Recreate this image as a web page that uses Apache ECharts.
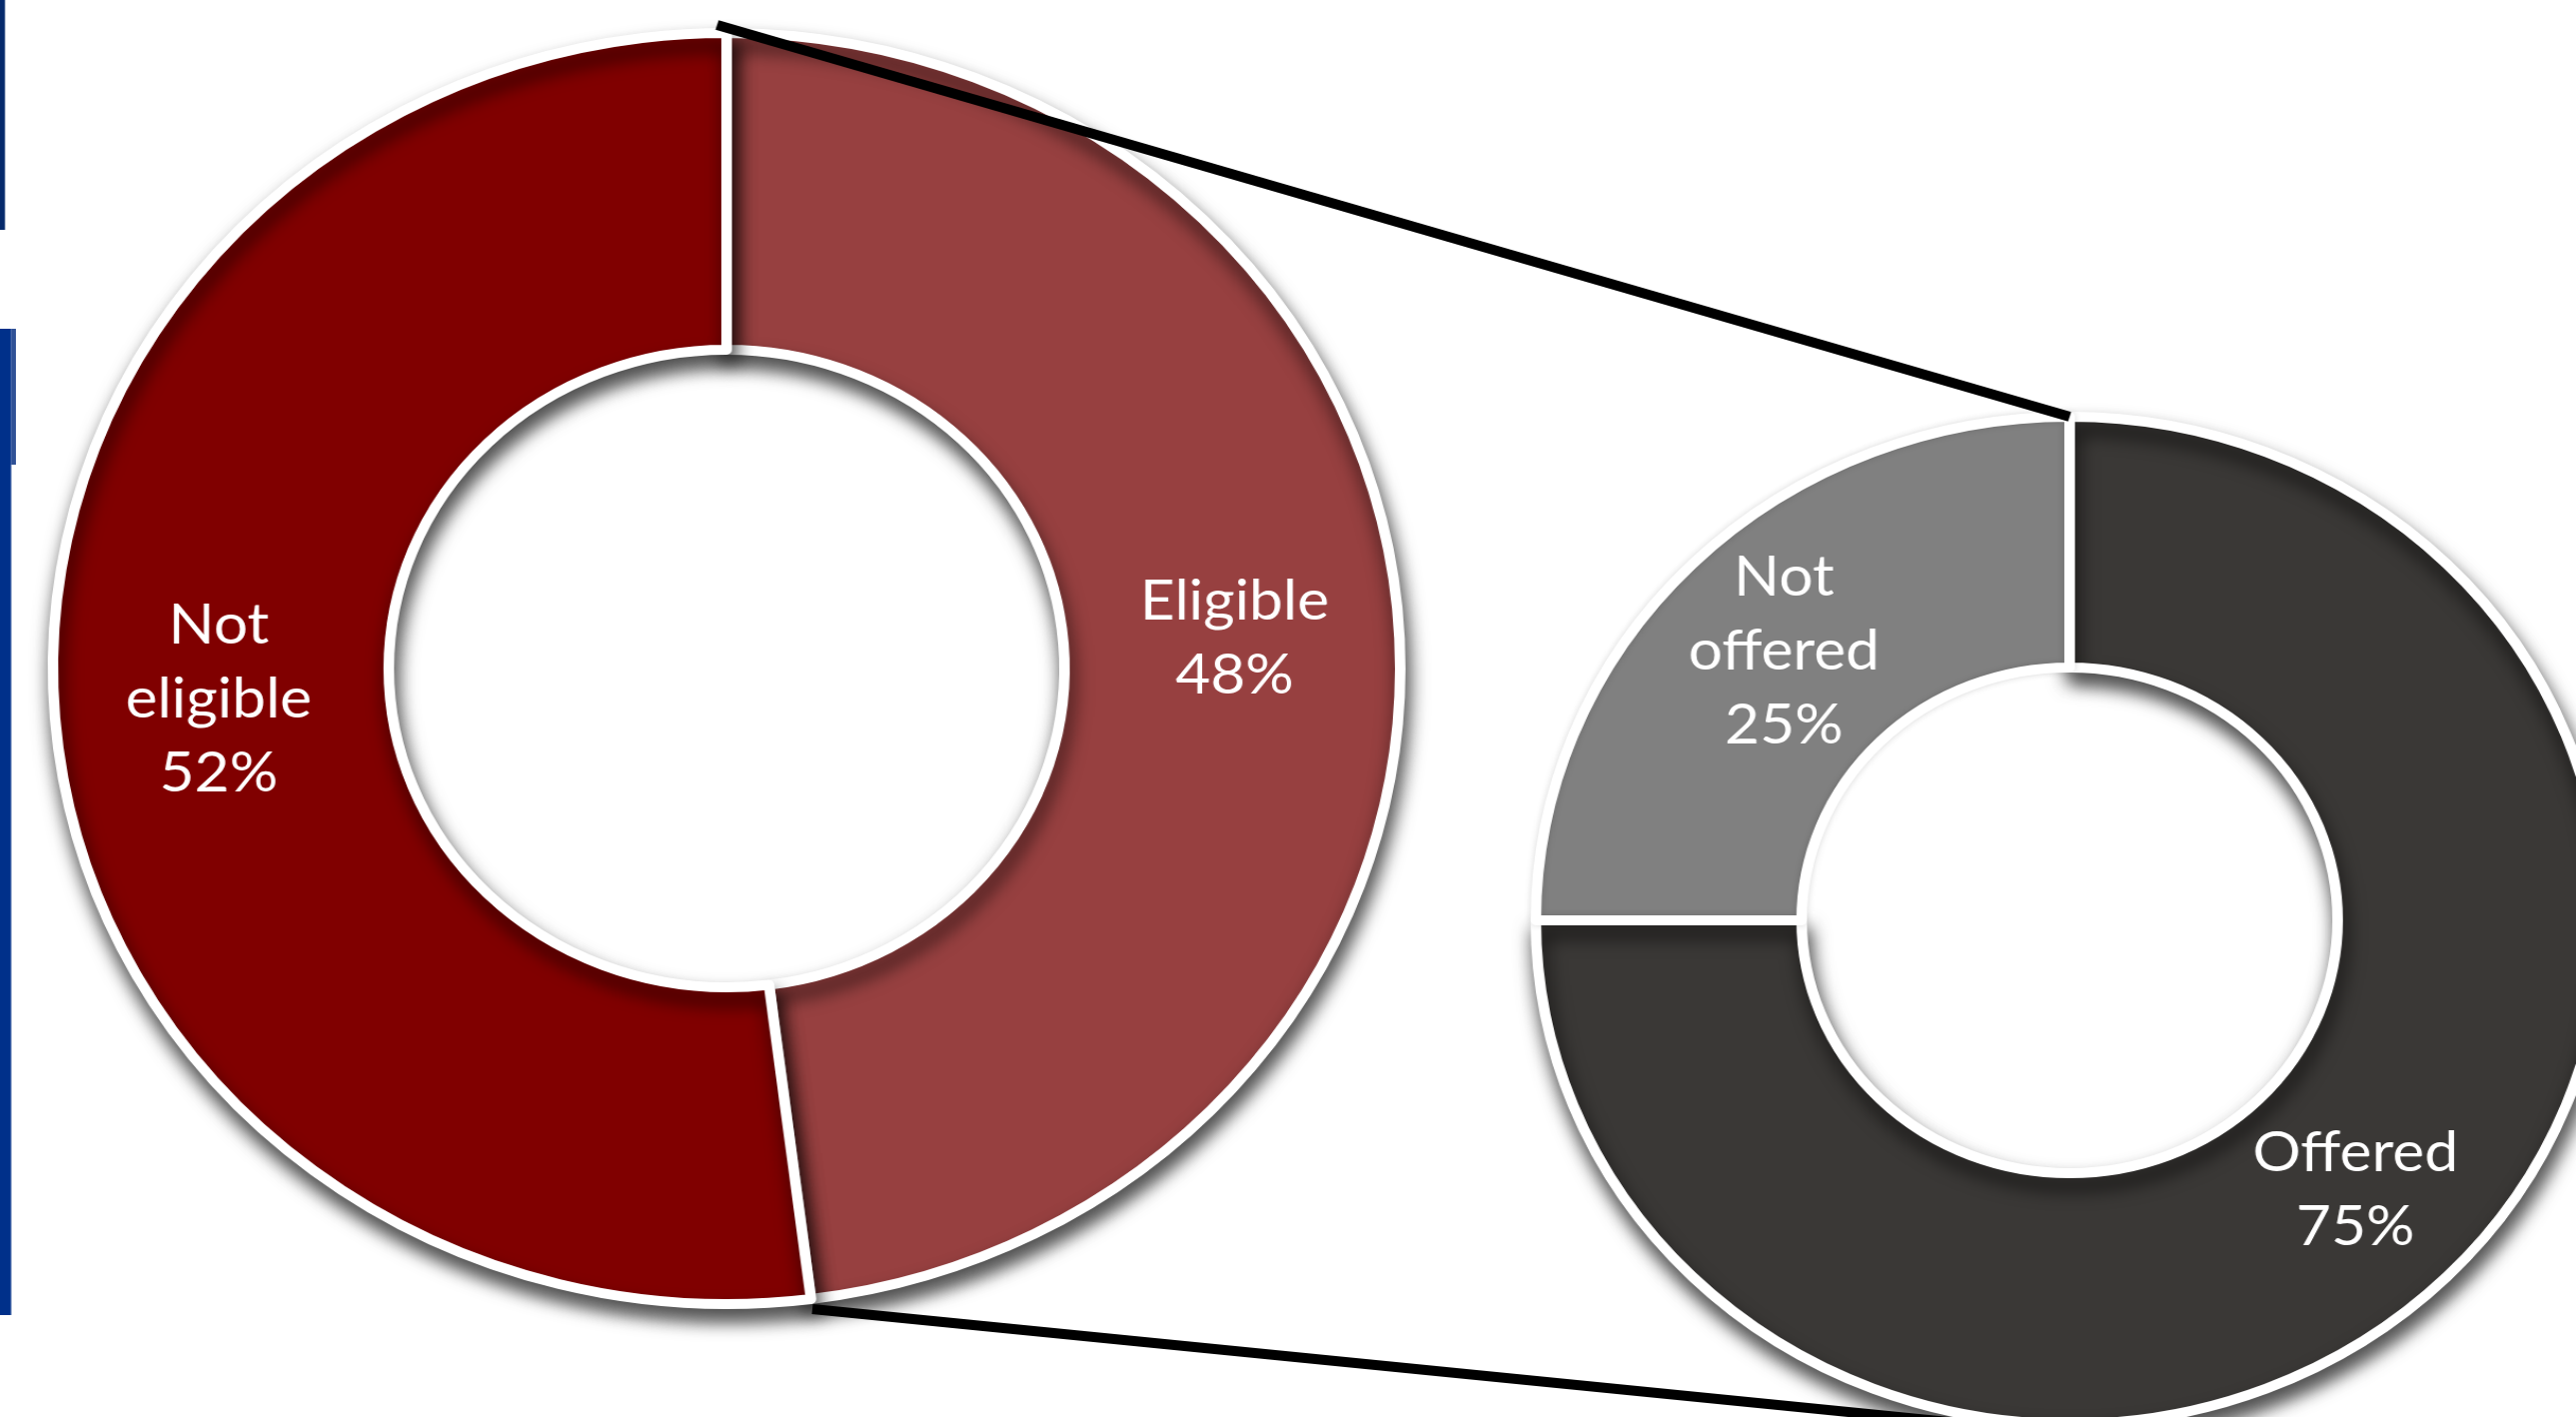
<!DOCTYPE html>
<html>
<head>
<meta charset="utf-8">
<script src="https://cdn.jsdelivr.net/npm/echarts@6/dist/echarts.min.js"></script>
<style>
  html, body { margin: 0; padding: 0; background: #fff; overflow: hidden; }
  /* donuts in the original are slightly wider than tall, so stretch the canvas */
  #chart { width: 2432px; height: 1418px; transform: scale(1.06, 1); transform-origin: 0 0; }
</style>
</head>
<body>
<div id="chart"></div>
<script>
// data
const mainCategories = ["Eligible", "Not eligible"];
const mainValues = [48, 52];
const subCategories = ["Offered", "Not offered"];
const subValues = [75, 25];

// styling
const mainColors = ["#974040", "#800000"];
const subColors = ["#3a3836", "#808080"];

// layout (chart coords, before the horizontal stretch)
const left = { cx: 686, cy: 669, r0: 319, r1: 636 };
const right = { cx: 1954, cy: 921, r0: 253, r1: 504 };

const chart = echarts.init(document.getElementById("chart"));

const labelStyle = {
  show: true,
  position: "inside",
  color: "#fff",
  fontFamily: "Lato",
  fontSize: 57,
  lineHeight: 74,
  formatter: (p) => p.name.replace(" ", "\n") + "\n" + p.value + "%",
};

const shadow = {
  borderColor: "#fff",
  borderWidth: 10,
  shadowBlur: 18,
  shadowColor: "rgba(0,0,0,0.7)",
  shadowOffsetX: 3,
  shadowOffsetY: 12,
};

function pieData(names, values, colors, noShadow) {
  return names.map((n, i) => ({
    name: n,
    value: values[i],
    itemStyle: Object.assign({ color: colors[i] },
      noShadow && noShadow.includes(i)
        ? { shadowBlur: 6, shadowColor: "rgba(0,0,0,0.15)", shadowOffsetX: 0, shadowOffsetY: 0 }
        : {}),
  }));
}

// connector lines: from the main split points to the top/bottom of the second donut
const splitAngle = (2 * Math.PI * mainValues[0]) / (mainValues[0] + mainValues[1]);
const topStart = [left.cx - 9, left.cy - left.r1 - 8];
const botStart = [
  left.cx + (left.r1 + 10) * Math.sin(splitAngle),
  left.cy - (left.r1 + 10) * Math.cos(splitAngle),
];
const topEnd = [right.cx, right.cy - right.r1];
const botEnd = [right.cx, right.cy + right.r1 + 10];

chart.setOption({
  animation: false,
  backgroundColor: "#fff",
  series: [
    {
      type: "pie",
      silent: true,
      center: [left.cx, left.cy],
      radius: [left.r0, left.r1],
      startAngle: 90,
      clockwise: true,
      avoidLabelOverlap: false,
      label: labelStyle,
      labelLine: { show: false },
      itemStyle: shadow,
      data: pieData(mainCategories, mainValues, mainColors),
    },
    {
      type: "pie",
      silent: true,
      center: [right.cx, right.cy],
      radius: [right.r0, right.r1],
      startAngle: 90,
      clockwise: true,
      avoidLabelOverlap: false,
      label: labelStyle,
      labelLine: { show: false },
      itemStyle: shadow,
      data: pieData(subCategories, subValues, subColors, [1]),
    },
  ],
  graphic: [
    // blue page-edge bars
    { type: "rect", silent: true, shape: { x: 0, y: 0, width: 4.7, height: 230 }, style: { fill: "#05296b" } },
    { type: "rect", silent: true, shape: { x: 0, y: 329, width: 15, height: 136 }, style: { fill: "#2f5196" } },
    { type: "rect", silent: true, shape: { x: 0, y: 329, width: 10.8, height: 987 }, style: { fill: "#5a77b0" } },
    { type: "rect", silent: true, shape: { x: 0, y: 329, width: 10, height: 987 }, style: { fill: "#00308a" } },
    // connectors
    {
      type: "line", silent: true, z: 100,
      shape: { x1: topStart[0], y1: topStart[1], x2: topEnd[0], y2: topEnd[1] },
      style: { stroke: "#000", lineWidth: 10 },
    },
    {
      type: "line", silent: true, z: 100,
      shape: { x1: botStart[0], y1: botStart[1], x2: botEnd[0], y2: botEnd[1] },
      style: { stroke: "#000", lineWidth: 10 },
    },
  ],
});
</script>
</body>
</html>
